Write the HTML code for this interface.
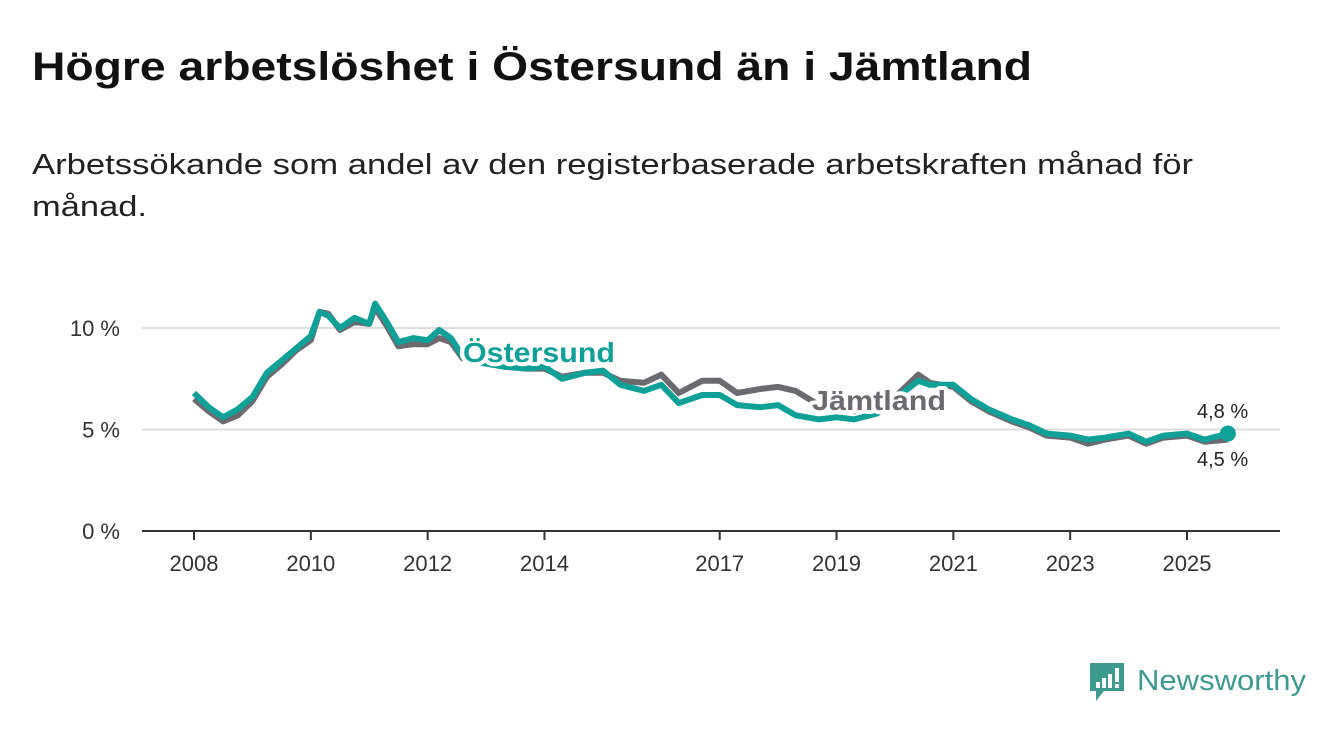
<!DOCTYPE html>
<html><head><meta charset="utf-8"><style>
body{margin:0;background:#fff;}
svg{display:block;font-family:"Liberation Sans","DejaVu Sans",sans-serif;}
</style></head><body>
<svg id="chart" width="1340" height="734" viewBox="0 0 1340 734">
<text x="32" y="80" font-size="40" font-weight="bold" fill="#111" textLength="1000" lengthAdjust="spacingAndGlyphs">Högre arbetslöshet i Östersund än i Jämtland</text>
<text x="32" y="174" font-size="29" fill="#222" textLength="1161" lengthAdjust="spacingAndGlyphs">Arbetssökande som andel av den registerbaserade arbetskraften månad för</text>
<text x="32" y="216" font-size="29" fill="#222" textLength="115" lengthAdjust="spacingAndGlyphs">månad.</text>
<g id="grid"></g><g id="lines"></g><g id="labels"></g>
<g>
<path d="M1090 663 h34 v28 h-20 l-8 10 v-10 h-6 z" fill="#3d9a8f"/>
<rect x="1096" y="682" width="4" height="6" fill="#fff"/><rect x="1102" y="678" width="4" height="10" fill="#fff"/><rect x="1108" y="674" width="4" height="14" fill="#fff"/><rect x="1115" y="668" width="4" height="14" fill="#fff"/><rect x="1115" y="684" width="4" height="4" fill="#fff"/>
<text x="1137" y="690" font-size="29" fill="#3d9a8f" textLength="169" lengthAdjust="spacingAndGlyphs">Newsworthy</text>
</g>
</svg>
<script>
const yTicks=[0,5,10];
const yTickLabels=["0 %","5 %","10 %"];
const xTicks=[2008,2010,2012,2014,2017,2019,2021,2023,2025];
const years=[2008.0,2008.25,2008.5,2008.75,2009.0,2009.25,2009.5,2009.75,2010.0,2010.15,2010.3,2010.5,2010.75,2011.0,2011.1,2011.3,2011.5,2011.75,2012.0,2012.2,2012.4,2012.6,2012.9,2013.3,2013.7,2014.0,2014.3,2014.7,2015.0,2015.3,2015.7,2016.0,2016.3,2016.7,2017.0,2017.3,2017.7,2018.0,2018.3,2018.7,2019.0,2019.3,2019.7,2020.0,2020.4,2020.6,2021.0,2021.3,2021.6,2022.0,2022.3,2022.6,2023.0,2023.3,2023.6,2024.0,2024.3,2024.6,2025.0,2025.3,2025.7];
const ostersund=[6.8,6.1,5.6,6.0,6.6,7.8,8.4,9.0,9.6,10.8,10.6,10.0,10.5,10.2,11.2,10.3,9.3,9.5,9.4,9.9,9.5,8.6,8.3,8.1,8.0,8.1,7.5,7.8,7.9,7.2,6.9,7.2,6.3,6.7,6.7,6.2,6.1,6.2,5.7,5.5,5.6,5.5,5.8,6.5,7.4,7.2,7.2,6.5,6.0,5.5,5.2,4.8,4.7,4.5,4.6,4.8,4.4,4.7,4.8,4.5,4.8];
const jamtland=[6.5,5.9,5.4,5.7,6.4,7.6,8.2,8.9,9.4,10.8,10.7,9.9,10.3,10.2,11.0,10.1,9.1,9.2,9.2,9.5,9.3,8.5,8.3,8.1,8.0,8.0,7.6,7.8,7.8,7.4,7.3,7.7,6.8,7.4,7.4,6.8,7.0,7.1,6.9,6.2,6.0,5.9,6.0,6.6,7.7,7.3,7.1,6.4,5.9,5.4,5.1,4.7,4.6,4.3,4.5,4.7,4.3,4.6,4.7,4.4,4.5];
const x=v=>194+(v-2008)*(1187-194)/17;
const y=v=>531-v*20.3;
const NS='http://www.w3.org/2000/svg';
function mk(t,a,p){const e=document.createElementNS(NS,t);for(const k in a)e.setAttribute(k,a[k]);p.appendChild(e);return e;}
const grid=document.getElementById('grid');
yTicks.forEach((t,i)=>{
 const l=mk('line',{x1:142,x2:1280,y1:y(t),y2:y(t),stroke:t===0?'#333':'#ddd','stroke-width':2},grid);
 
 
 const tx=mk('text',{x:120,y:y(t)+8,'font-size':22,fill:'#333','text-anchor':'end'},grid);
 tx.textContent=yTickLabels[i];
 
 
});
xTicks.forEach(t=>{
 const l=mk('line',{x1:x(t),x2:x(t),y1:531,y2:540,stroke:'#333','stroke-width':2},grid);
 
 
 const tx=mk('text',{x:x(t),y:571,'font-size':22,fill:'#333','text-anchor':'middle'},grid);
 tx.textContent=t;
 
 
});
const lines=document.getElementById('lines');
function path(vals){return vals.map((v,i)=>(i?'L':'M')+x(years[i]).toFixed(1)+' '+y(v).toFixed(1)).join(' ');}
const pj=mk('path',{d:path(jamtland),fill:'none',stroke:'#6b6a6f','stroke-width':6,'stroke-linejoin':'round'},lines);


const po=mk('path',{d:path(ostersund),fill:'none',stroke:'#0fa197','stroke-width':6,'stroke-linejoin':'round'},lines);


const last=years.length-1;
const dot=mk('circle',{cx:x(years[last]),cy:y(ostersund[last]),r:8,fill:'#0fa197'},lines);


const lab=document.getElementById('labels');
function label(txt,xx,yy,col,size,w,name,len){
 const t=mk('text',{x:xx,y:yy,'font-size':size,fill:col,stroke:'#fff','stroke-width':8,'paint-order':'stroke','stroke-linejoin':'round','font-weight':w},lab);
 if(len){t.setAttribute('textLength',len);t.setAttribute('lengthAdjust','spacingAndGlyphs');}
 t.textContent=txt;
 
 
}
label('Östersund',463,362,'#0fa197',28,'bold','ostersund-label',152);
label('Jämtland',812,410,'#6b6a6f',28,'bold','jamtland-label',134);
label('4,8 %',1197,418,'#222',20,'normal','ostersund-end-value');
label('4,5 %',1197,466,'#222',20,'normal','jamtland-end-value');
</script>
</body></html>
